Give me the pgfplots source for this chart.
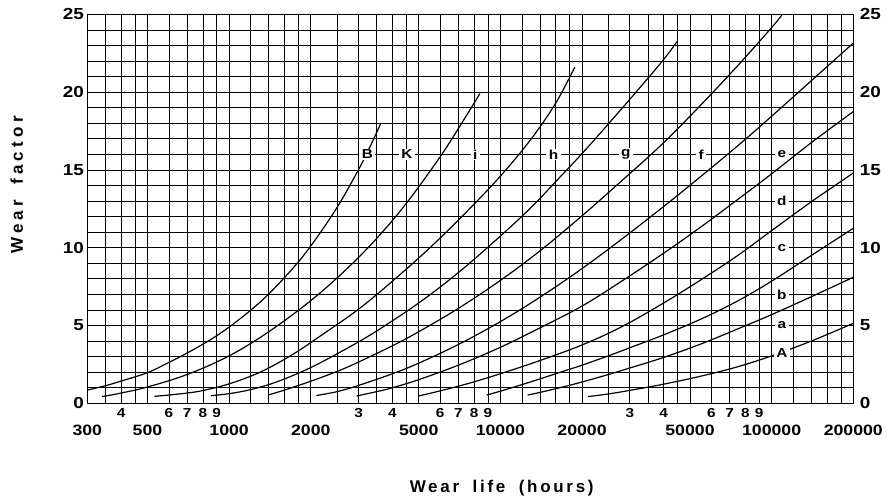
\documentclass[border=0pt]{standalone}
\usepackage{fontspec}
\setmainfont{Liberation Sans}
\setsansfont{Liberation Sans}
\newfontfamily\spacedfont[LetterSpace=16]{Liberation Sans}
\newfontfamily\yspacedfont[LetterSpace=25]{Liberation Sans}
\newfontfamily\tickfont[FakeStretch=1.18]{Liberation Sans}
\usepackage{pgfplots}
\pgfplotsset{compat=1.18}

\begin{document}
\begin{tikzpicture}[x=1pt,y=1pt]
\useasboundingbox (0,0) rectangle (894,503);
\begin{axis}[
  at={(87.3pt,99.7pt)}, anchor=south west,
  scale only axis, width=766pt, height=389pt,
  xmode=log, xmin=300, xmax=200000, ymin=0, ymax=25,
  xtick={300,500,1000,2000,5000,10000,20000,50000,100000,200000},
  xticklabels={300,500,1000,2000,5000,10000,20000,50000,100000,200000},
  minor xtick={350,400,450,600,700,800,900,1200,1400,1600,1800,2500,3000,3500,4000,4500,6000,7000,8000,9000,12000,14000,16000,18000,25000,30000,35000,40000,45000,60000,70000,80000,90000,120000,140000,160000,180000},
  extra x ticks={400,600,700,800,900,3000,4000,6000,7000,8000,9000,30000,40000,60000,70000,80000,90000},
  extra x tick labels={4,6,7,8,9,3,4,6,7,8,9,3,4,6,7,8,9},
  extra x tick style={xticklabel style={yshift=17pt, font=\tickfont\bfseries\fontsize{13}{13}\selectfont}},
  xticklabel style={anchor=center, yshift=-27pt, font=\tickfont\bfseries\fontsize{15}{15}\selectfont},
  ytick={0,5,10,15,20,25},
  yticklabels={0,5,10,15,20,25},
  minor ytick={1,2,3,4,6,7,8,9,11,12,13,14,16,17,18,19,21,22,23,24},
  yticklabel style={font=\tickfont\bfseries\fontsize{16}{16}\selectfont},
  xmajorgrids, xminorgrids, ymajorgrids, yminorgrids,
  grid style={black, line width=0.7pt},
  minor grid style={black, line width=0.7pt},
  tick style={draw=none},
  axis line style={line width=1.4pt},
  xlabel={Wear\hspace{6pt} life\hspace{6pt} (hours)},
  ylabel={Wear\hspace{6pt} factor},
  xlabel style={at={(axis description cs:0.541,-0.218)}, anchor=center, font=\spacedfont\bfseries\fontsize{17}{17}\selectfont},
  ylabel style={at={(axis description cs:-0.092,0.561)}, anchor=center, font=\yspacedfont\bfseries\fontsize{17}{17}\selectfont},
  curve/.style={black, solid, line width=1.2pt, smooth, tension=0.6, mark=none},
]
% curve 1 (B)
\addplot[curve] coordinates {(300,0.85)(350,1.13)(400,1.43)(500,1.97)(600,2.63)(700,3.23)(850,4.07)(1000,4.9)(1200,5.98)(1400,7.03)(1700,8.59)(2000,10.11)(2500,12.59)(3000,15.02)(3300,16.46)(3620,17.97)};
% curve 2 (K)
\addplot[curve] coordinates {(340,0.43)(400,0.66)(500,1.05)(700,1.85)(1000,3.05)(1400,4.6)(2000,6.6)(2700,8.6)(3500,10.6)(4500,12.85)(6000,15.85)(7200,18.0)(8400,19.9)};
% curve 3 (i)
\addplot[curve] coordinates {(530,0.45)(600,0.53)(700,0.66)(800,0.82)(1000,1.25)(1300,2.0)(1700,3.1)(2200,4.4)(3000,6.05)(4000,7.85)(5500,10.0)(7500,12.3)(10000,14.6)(13000,17.0)(16000,19.3)(18800,21.6)};
% curve 4 (h)
\addplot[curve] coordinates {(858,0.49)(1000,0.62)(1200,0.88)(1500,1.38)(2000,2.3)(2700,3.5)(3500,4.65)(5000,6.45)(7000,8.4)(10000,10.75)(13000,12.6)(16000,14.25)(20000,16.05)(25000,17.95)(32000,20.1)(40000,22.1)(45000,23.3)};
% curve 5 (g)
\addplot[curve] coordinates {(1390,0.53)(1600,0.85)(2000,1.42)(2500,2.05)(3000,2.65)(4000,3.7)(5000,4.6)(7000,6.1)(10000,7.9)(14000,9.8)(20000,12.05)(28000,14.3)(40000,16.75)(55000,19.2)(75000,21.7)(100000,24.15)(109000,24.95)};
% curve 6 (f)
\addplot[curve] coordinates {(2096,0.5)(2500,0.75)(3000,1.15)(4000,1.9)(5000,2.58)(7000,3.78)(10000,5.25)(14000,6.82)(20000,8.66)(28000,10.55)(40000,12.65)(55000,14.6)(75000,16.55)(100000,18.45)(140000,20.73)(200000,23.15)};
% curve 7 (e)
\addplot[curve] coordinates {(2950,0.47)(3500,0.75)(4000,1.0)(5000,1.52)(7000,2.45)(10000,3.6)(14000,4.85)(20000,6.25)(28000,7.85)(40000,9.65)(55000,11.35)(75000,13.1)(100000,14.75)(140000,16.75)(200000,18.75)};
% curve 8 (d)
\addplot[curve] coordinates {(5000,0.47)(6000,0.8)(7000,1.1)(8000,1.38)(10000,1.9)(14000,2.75)(20000,3.75)(28000,4.92)(40000,6.45)(55000,7.95)(75000,9.5)(100000,11.1)(140000,12.95)(200000,14.8)};
% curve 9 (c)
\addplot[curve] coordinates {(8900,0.53)(10000,0.78)(12000,1.2)(14000,1.57)(17000,2.05)(20000,2.45)(25000,3.05)(30000,3.57)(40000,4.4)(55000,5.42)(75000,6.58)(100000,7.85)(140000,9.5)(200000,11.25)};
% curve 10 (b)
\addplot[curve] coordinates {(12600,0.53)(14000,0.7)(17000,1.05)(20000,1.37)(25000,1.85)(30000,2.27)(40000,2.95)(55000,3.82)(75000,4.78)(100000,5.7)(140000,6.85)(200000,8.1)};
% curve 11 (A)
\addplot[curve] coordinates {(21000,0.43)(25000,0.6)(30000,0.83)(40000,1.23)(55000,1.75)(75000,2.35)(100000,3.05)(140000,4.0)(200000,5.14)};
% labels
\begin{scope}[every node/.style={fill=white, inner xsep=2.5pt, inner ysep=1pt, font=\tickfont\bfseries\fontsize{13}{13}\selectfont}]
\node at (axis cs:3235,16) {B};
\node at (axis cs:4520,16) {K};
\node at (axis cs:8070,16) {i};
\node at (axis cs:15700,16) {h};
\node at (axis cs:29000,16) {g};
\node at (axis cs:55000,16) {f};
\node at (axis cs:109000,16) {e};
\node at (axis cs:109000,13) {d};
\node at (axis cs:109000,10) {c};
\node at (axis cs:109000,7) {b};
\node at (axis cs:109000,5) {a};
\node at (axis cs:109000,3.25) {A};
\end{scope}
\end{axis}
\begin{axis}[
  at={(87.3pt,99.7pt)}, anchor=south west,
  scale only axis, width=766pt, height=389pt,
  xmode=log, xmin=300, xmax=200000, ymin=0, ymax=25,
  axis x line=none, axis y line*=right,
  xtick=\empty,
  ytick={0,5,10,15,20,25},
  yticklabels={0,5,10,15,20,25},
  yticklabel style={font=\tickfont\bfseries\fontsize{16}{16}\selectfont, xshift=3pt},
  tick style={draw=none},
  axis line style={line width=1.4pt},
]
\end{axis}
\end{tikzpicture}
\end{document}
